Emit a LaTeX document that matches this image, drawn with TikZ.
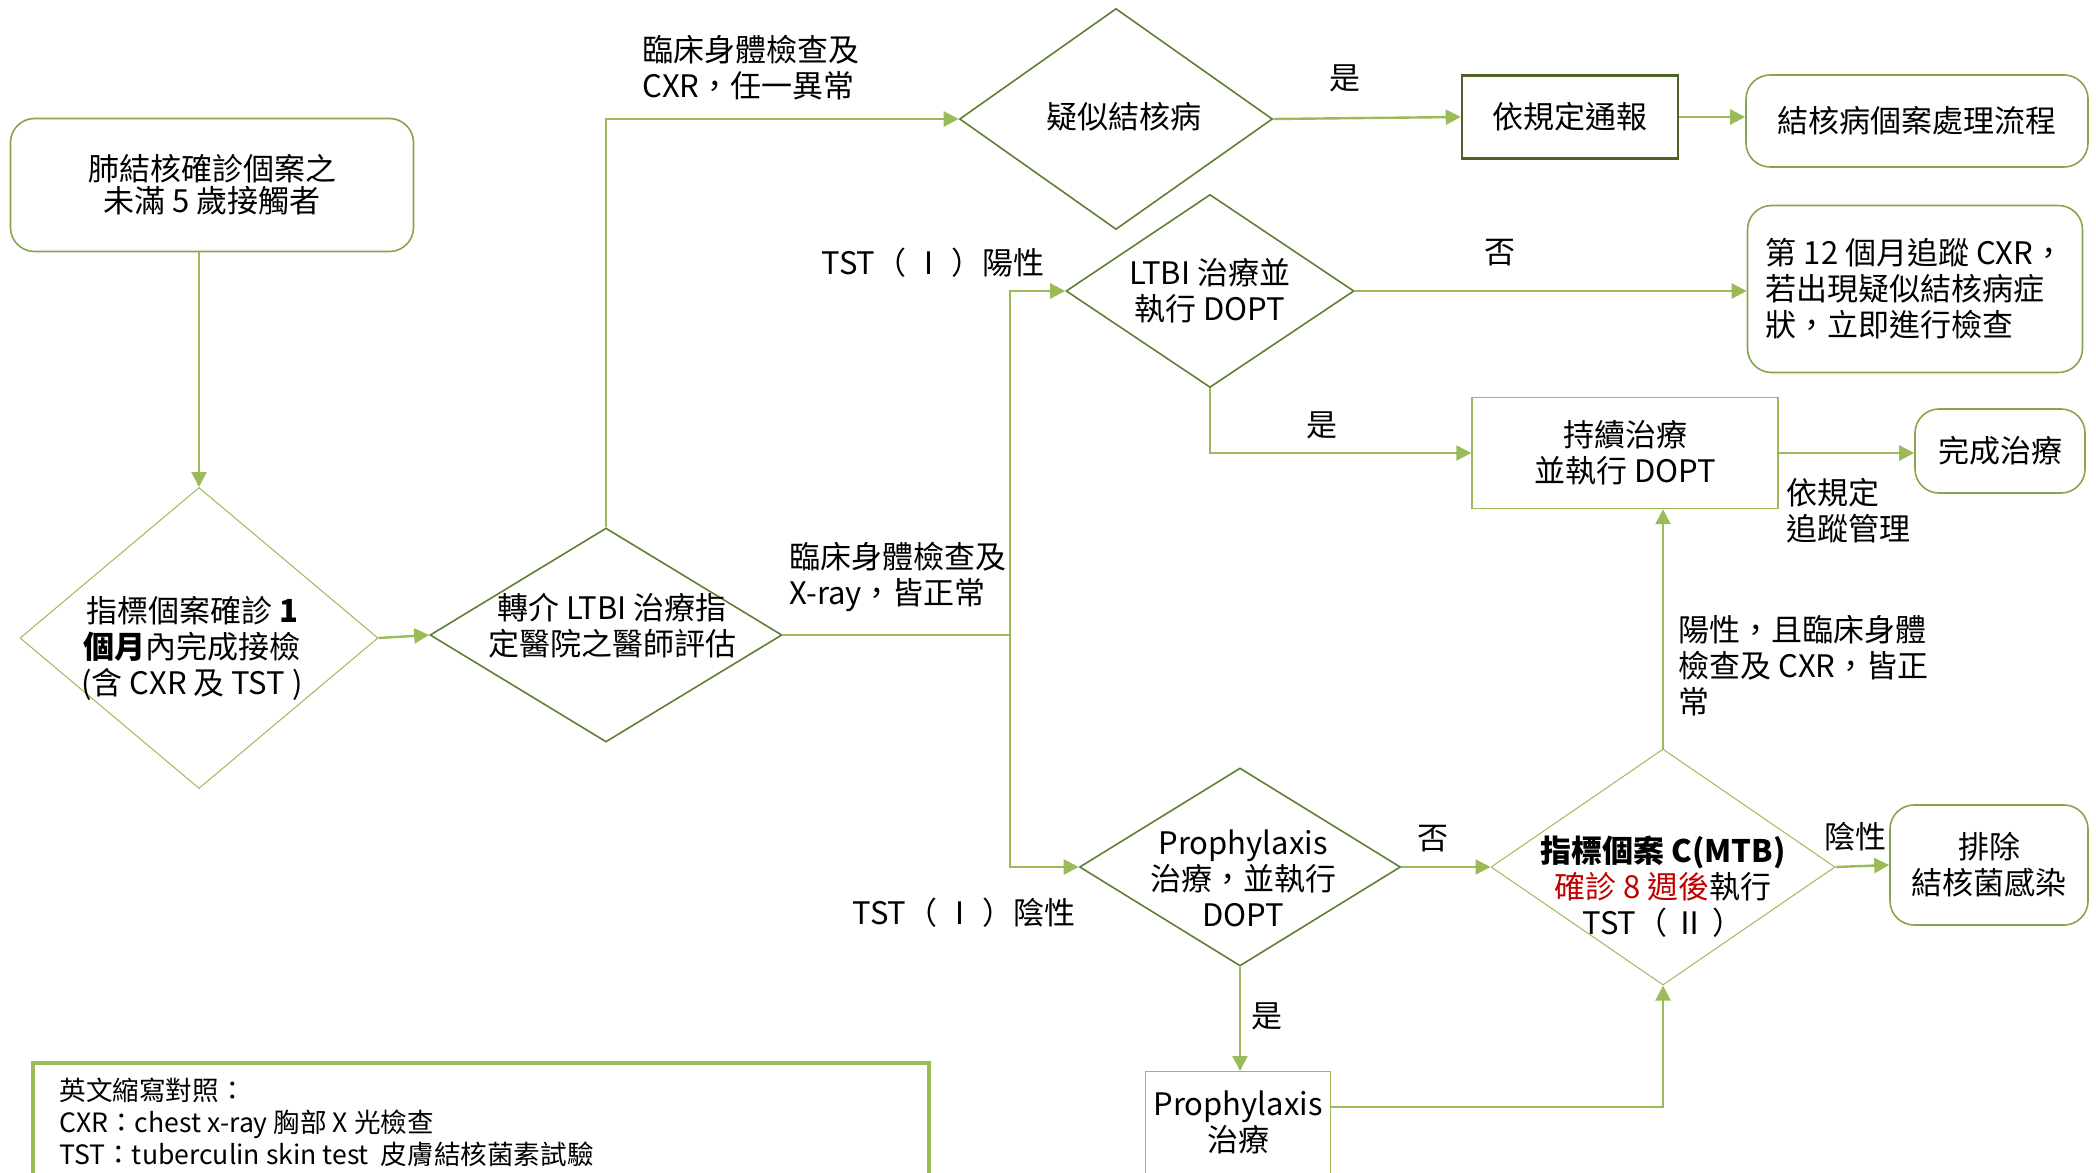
\documentclass[tikz,border=0pt]{standalone}
\usepackage{fontspec}
\setmainfont{Noto Sans CJK TC}[Script=CJK,Language=Chinese Traditional]
\usepackage{tikz}
\usepackage{xcolor}
\usetikzlibrary{arrows.meta}
\usetikzlibrary{shapes.geometric}

\definecolor{lgreen}{HTML}{9BBB59}
\definecolor{dgreen}{HTML}{5F7F33}
\definecolor{ddgreen}{HTML}{4F6228}
\definecolor{rgreen}{HTML}{86A64E}
\definecolor{tbred}{HTML}{C00000}

\begin{document}
\begin{tikzpicture}[x=.5pt,y=-.5pt,
    every node/.style={font=\fontsize{15.5pt}{18pt}\selectfont},
    >={Triangle[length=7.5pt,width=7.5pt]},
    line/.style={lgreen,line width=1.2pt},
    dia/.style={diamond,draw=dgreen,line width=.8pt,inner sep=0pt},
    ldia/.style={diamond,draw=lgreen,line width=.5pt,inner sep=0pt},
    rbox/.style={draw=rgreen,line width=.8pt,rounded corners=12pt,align=center},
    sbox/.style={draw=lgreen,line width=.7pt,align=center},
    lbl/.style={align=left,inner sep=0pt}]
  \useasboundingbox (0,0) rectangle (2096,1172);

  \node (b1) [rbox,minimum width=201.5pt,minimum height=66.5pt,
    font=\fontsize{15.5pt}{16pt}\selectfont] at (212,185)
    {肺結核確診個案之\\未滿 5 歲接觸者};
  \node (d1) [ldia,minimum width=179pt,minimum height=150.5pt] at (199,638) {};
  \node (d1t) [lbl,align=center] at (192,648)
    {指標個案確診 \textbf{1}\\\textbf{個月}內完成接檢\\(含 CXR 及 TST )};
  \node (d2) [dia,minimum width=176pt,minimum height=107pt] at (606,635) {};
  \node (d2t) [lbl,align=center] at (612,626) {轉介 LTBI 治療指\\定醫院之醫師評估};
  \node (d3) [dia,minimum width=156.5pt,minimum height=110.5pt] at (1116,119) {};
  \node (d3t) [lbl] at (1124,117) {疑似結核病};
  \node (b2) [sbox,draw=ddgreen,line width=1.3pt,minimum width=108pt,
    minimum height=41.5pt] at (1570,117) {依規定通報};
  \node (b3) [rbox,minimum width=171pt,minimum height=46pt] at (1917,121)
    {結核病個案處理流程};
  \node (d4) [dia,minimum width=144pt,minimum height=96.5pt] at (1210,291) {};
  \node (d4t) [lbl,align=center] at (1210,291) {LTBI 治療並\\執行 DOPT};
  \node (b4) [rbox,align=left,minimum width=167.5pt,minimum height=83.5pt]
    at (1915,289) {第 12 個月追蹤 CXR，\\若出現疑似結核病症\\狀，立即進行檢查};
  \node (b5) [sbox,minimum width=153pt,minimum height=55.5pt] at (1625,453)
    {持續治療\\並執行 DOPT};
  \node (b6) [rbox,minimum width=85pt,minimum height=42pt] at (2000,451) {完成治療};
  \node (d5) [dia,minimum width=160.5pt,minimum height=99pt] at (1240,867) {};
  \node (d5t) [lbl,align=center] at (1243,878) {Prophylaxis\\治療，並執行\\DOPT};
  \node (d6) [ldia,minimum width=172pt,minimum height=118pt] at (1663,867) {};
  \node (d6t) [lbl,align=center] at (1663,887)
    {\textbf{指標個案 C(MTB)}\\\textcolor{tbred}{確診 8 週後}執行\\TST（ Ⅱ ）};
  \node (b7) [rbox,minimum width=99pt,minimum height=60pt] at (1989,865)
    {排除\\結核菌感染};
  \node (b8) [sbox,anchor=north,minimum width=92.5pt,minimum height=70pt]
    at (1238,1071) {};
  \node (b8t) [lbl,align=center] at (1238,1122) {Prophylaxis\\治療};

  \draw[lgreen,line width=2pt] (33,1250) -- (33,1063) -- (929,1063) -- (929,1250);
  \node (key) [lbl,anchor=north west,font=\fontsize{13.3pt}{16pt}\selectfont]
    at (59,1078) {英文縮寫對照：\\CXR：chest x-ray 胸部 X 光檢查\\
    TST：tuberculin skin test\ \ 皮膚結核菌素試驗};

  \draw[line,->] (d1.north |- b1.south) -- (d1.north);
  \draw[line,->] (d1.east) -- (d2.west);
  \draw[line,->] (d2.north) |- (d3.west);
  \draw[line,->] (d3.east) -- (b2.west);
  \draw[line,->] (b2.east) -- (b2.east -| b3.west);
  \path (d2.east) ++(227,0) coordinate (j);
  \draw[line] (d2.east) -- (j);
  \draw[line,->] (j) |- (d4.west);
  \draw[line,->] (j) |- (d5.west);
  \draw[line,->] (d4.east) -- (d4.east -| b4.west);
  \draw[line,->] (d4.south) |- (b5.west);
  \draw[line,->] (b5.east) -- (b5.east -| b6.west);
  \draw[line,->] (d5.east) -- (d6.west);
  \draw[line,->] (d6.north) -- (d6.north |- b5.south);
  \draw[line,->] (d6.east) -- (b7.west);
  \draw[line,->] (d5.south) -- (d5.south |- b8.north);
  \path (b8.north east) +(0,36) coordinate (b8o);
  \draw[line,->] (b8o) -| (d6.south);

  \node (l1) [lbl,anchor=west] at (642,68) {臨床身體檢查及\\CXR，任一異常};
  \node (l2) [lbl] at (1345,78) {是};
  \node (l3) [lbl] at (933,263) {TST（ Ⅰ ）陽性};
  \node (l4) [lbl,anchor=west] at (789,577) {臨床身體檢查及\\X-ray，皆正常};
  \node (l5) [lbl] at (1500,253) {否};
  \node (l6) [lbl] at (1322,425) {是};
  \node (l7) [lbl,anchor=west] at (1786,511) {依規定\\追蹤管理};
  \node (l8) [lbl,anchor=west] at (1678,666) {陽性，且臨床身體\\檢查及 CXR，皆正\\常};
  \node (l9) [lbl] at (1433,839) {否};
  \node (l10) [lbl] at (1855,837) {陰性};
  \node (l11) [lbl] at (964,913) {TST（ Ⅰ ）陰性};
  \node (l12) [lbl] at (1267,1016) {是};
\end{tikzpicture}
\end{document}
